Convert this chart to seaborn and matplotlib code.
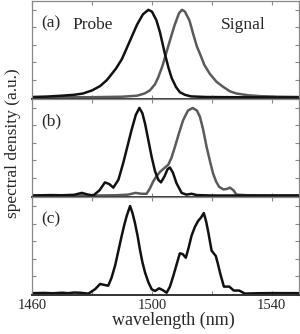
import matplotlib
matplotlib.use("Agg")
import matplotlib.pyplot as plt
import numpy as np
import pandas as pd
import seaborn as sns

########### DATA ###########
# panel (a)
probe_a_wl = [1460, 1465, 1470, 1474, 1477, 1480, 1482.7, 1485, 1488, 1490, 1492.7, 1495, 1497,
              1498.8, 1500, 1501.5, 1502.7, 1504.3, 1505.5, 1506.6, 1508, 1509.3, 1511, 1513,
              1518, 1530, 1549]
probe_a = [0.005, 0.01, 0.02, 0.03, 0.045, 0.08, 0.13, 0.2, 0.33, 0.44, 0.65, 0.83, 0.95,
           1.0, 0.98, 0.88, 0.74, 0.5, 0.34, 0.22, 0.12, 0.06, 0.03, 0.012,
           0.005, 0.002, 0.0]
signal_a_wl = [1460, 1480, 1490, 1495, 1497.5, 1499.3, 1501, 1502.1, 1503.5, 1504.7, 1506, 1507.5,
               1509, 1510, 1511, 1512.5, 1513.8, 1515, 1516, 1517.5, 1519.3, 1521.5, 1523.8,
               1526, 1528.2, 1532, 1536, 1542, 1549]
signal_a = [0.0, 0.003, 0.008, 0.02, 0.045, 0.08, 0.15, 0.23, 0.36, 0.5, 0.65, 0.82,
            0.96, 1.0, 0.98, 0.88, 0.72, 0.58, 0.5, 0.37, 0.27, 0.18, 0.12,
            0.07, 0.045, 0.025, 0.015, 0.008, 0.005]

# panel (b)
probe_b_wl = [1460, 1466, 1470, 1474, 1476.6, 1478.5, 1480.4, 1482.5, 1484.3, 1485.8, 1487.1,
              1488.8, 1490.4, 1491.8, 1493.2, 1494.6, 1495.8, 1496.8, 1497.7, 1498.8, 1499.9,
              1501, 1502.1, 1503, 1504.2, 1505.2, 1506, 1507, 1508.2, 1509.9, 1511.5, 1513.2,
              1515, 1520, 1530, 1549]
probe_b = [0.0, 0.005, 0.003, 0.008, 0.03, 0.012, 0.0, 0.06, 0.15, 0.13, 0.09,
           0.18, 0.37, 0.56, 0.75, 0.92, 1.0, 0.94, 0.82, 0.63, 0.44,
           0.28, 0.18, 0.15, 0.22, 0.3, 0.32, 0.26, 0.14, 0.03, 0.01, 0.02,
           0.005, 0.0, 0.0, 0.0]
signal_b_wl = [1460, 1480, 1488, 1492, 1494.5, 1496.5, 1498.2, 1499.3, 1500.4, 1501.5, 1502.7,
               1504, 1505.4, 1506.5, 1507.7, 1509, 1510.4, 1512, 1513.6, 1515, 1516, 1517.1,
               1518.2, 1519.3, 1520.4, 1521.4, 1522.4, 1523.8, 1525, 1526, 1527.2, 1528.2,
               1532, 1540, 1549]
signal_b = [0.0, 0.0, 0.003, 0.01, 0.03, 0.02, 0.02, 0.08, 0.16, 0.22, 0.27,
            0.31, 0.35, 0.43, 0.56, 0.71, 0.86, 0.97, 1.0, 0.97, 0.9, 0.75,
            0.56, 0.4, 0.25, 0.16, 0.1, 0.07, 0.075, 0.09, 0.06, 0.01,
            0.003, 0.0, 0.0]

# panel (c)
out_c_wl = [1460, 1464, 1467, 1470, 1472, 1474, 1476, 1478.8, 1481, 1482.7, 1484, 1485.4,
            1486.5, 1487.7, 1488.8, 1489.9, 1490.8, 1491.6, 1492.7, 1493.5, 1494.3, 1495.2,
            1496, 1496.8, 1497.7, 1498.8, 1499.9, 1501, 1502.4, 1503.6, 1504.9, 1506, 1507.1,
            1508.2, 1509.3, 1510.3, 1511.3, 1512.2, 1513.2, 1514.3, 1515.4, 1516.4, 1517.3,
            1518.1, 1518.8, 1519.9, 1521.3, 1522, 1522.7, 1524, 1525.8, 1527.3, 1529.1, 1531,
            1535, 1540, 1549]
out_c = [0.005, 0.008, 0.004, 0.01, 0.005, 0.012, 0.01, 0.0, 0.05, 0.11, 0.1, 0.09,
         0.18, 0.32, 0.49, 0.66, 0.79, 0.89, 1.0, 0.92, 0.81, 0.66,
         0.5, 0.36, 0.24, 0.13, 0.05, 0.03, 0.06, 0.04, 0.01, 0.08, 0.2,
         0.33, 0.46, 0.45, 0.41, 0.52, 0.66, 0.76, 0.83, 0.87, 0.92,
         0.82, 0.7, 0.49, 0.43, 0.34, 0.24, 0.08, 0.08, 0.035, 0.035, 0.0,
         0.004, 0.006, 0.005]

panel_tags = ['(a)', '(b)', '(c)']
xtick_vals = [1460, 1480, 1500, 1520, 1540]
xtick_text = ['1460', '', '1500', '', '1540']
ytick_vals = [0, 0.2, 0.4, 0.6, 0.8, 1.0]

############### PLOTTING ##################
sns.set_style("ticks")
plt.rcParams['font.family'] = ['Liberation Serif', 'DejaVu Serif']

fig, axes = plt.subplots(3, 1, figsize=(3.0, 3.34), dpi=100, sharex=True)
fig.subplots_adjust(left=0.107, right=0.996, top=0.998, bottom=0.117, hspace=0)

curves = [
    [(probe_a_wl, probe_a, '#111111'), (signal_a_wl, signal_a, '#5a5a5a')],
    [(probe_b_wl, probe_b, '#111111'), (signal_b_wl, signal_b, '#5a5a5a')],
    [(out_c_wl, out_c, '#111111')],
]

for i, ax in enumerate(axes):
    for wl, val, col in curves[i][::-1]:
        d = pd.DataFrame({'wl': wl, 'val': val})
        sns.lineplot(data=d, x='wl', y='val', ax=ax, color=col, linewidth=1.8)
    ax.set_xlim(1460, 1549)
    ax.set_ylim(-0.015, 1.105)
    ax.set_xticks(xtick_vals)
    ax.set_xticklabels(xtick_text)
    ax.set_yticks(ytick_vals)
    ax.set_yticklabels([])
    ax.set_xlabel('')
    ax.set_ylabel('')
    ax.tick_params(direction='in', length=3, width=0.8, color='#888888',
                   top=True, right=True, labelsize=10.5, pad=3)
    for s in ax.spines.values():
        s.set_color('#888888')
        s.set_linewidth(0.9)
    ax.spines['bottom'].set_color('#333333')
    ax.spines['bottom'].set_linewidth(1.4)
    ax.text(0.035, 0.77, panel_tags[i], transform=ax.transAxes, fontsize=12.5,
            va='center', ha='left')

axes[0].text(0.152, 0.75, 'Probe', transform=axes[0].transAxes, fontsize=12.5,
             va='center', ha='left')
axes[0].text(0.706, 0.75, 'Signal', transform=axes[0].transAxes, fontsize=12.5,
             va='center', ha='left')

axes[2].set_xlabel('wavelength (nm)', fontsize=13, labelpad=1)
axes[2].xaxis.set_label_coords(0.53, -0.17)
fig.text(0.045, 0.57, 'spectral density (a.u.)', rotation=90, fontsize=12.5,
         va='center', ha='center')

plt.savefig('out.png', dpi=100)
